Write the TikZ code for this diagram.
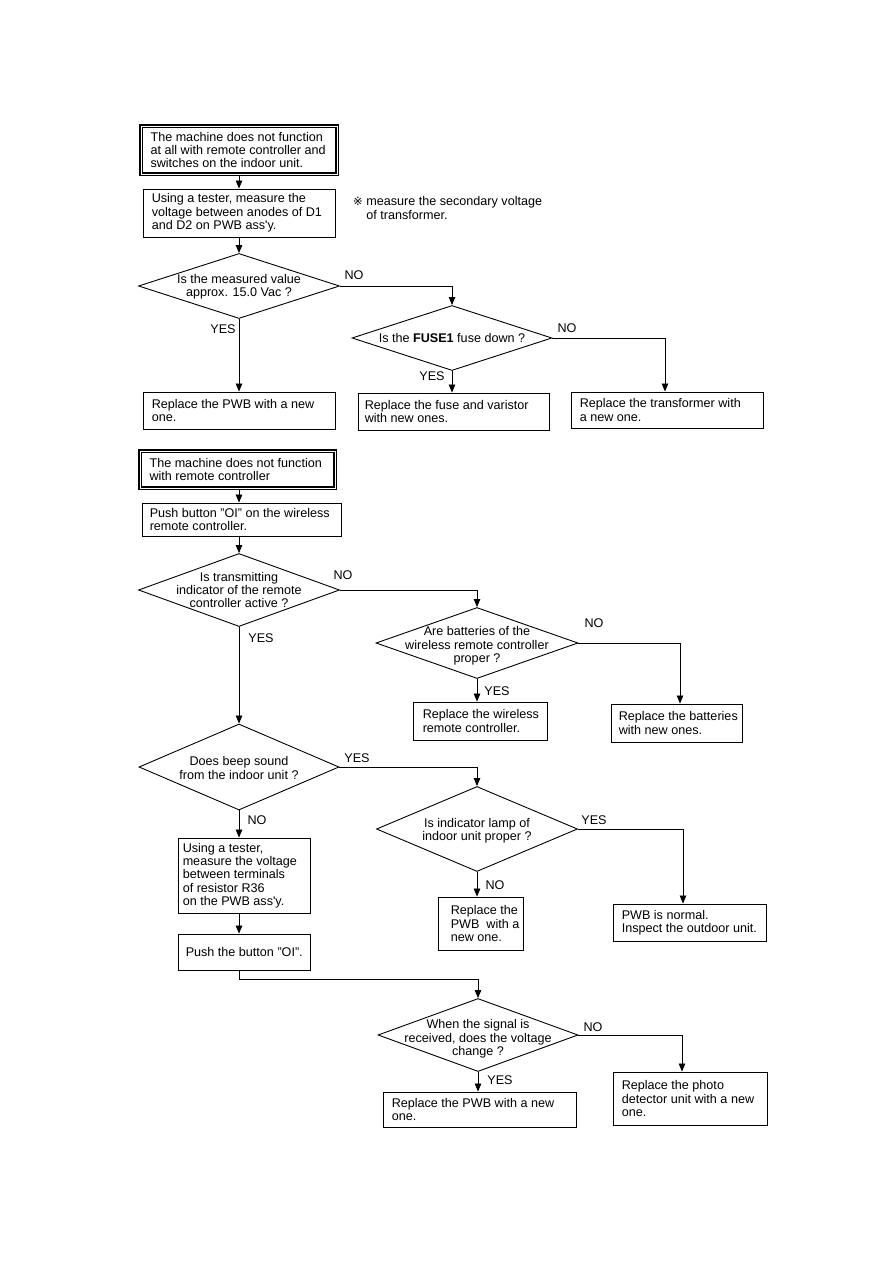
\documentclass[tikz,border=0pt]{standalone}
\usepackage{fontspec}
\setmainfont{Liberation Sans}
\newfontfamily\djv{DejaVu Sans}
\usetikzlibrary{shapes.geometric,arrows.meta}
\newcommand\fs{\fontsize{12.6}{13.3}\selectfont}
\tikzset{
  box/.style={draw, line width=0.9pt, inner sep=0pt},
  dblbox/.style={draw, double, double distance=0.9pt, line width=1.3pt, inner sep=0pt},
  txt/.style={align=left, inner sep=0pt, font=\fs},
  dia/.style={draw, diamond, line width=0.9pt, inner sep=0pt},
  lbl/.style={inner sep=0pt, font=\fs},
  arr/.style={line width=0.8pt, -{Triangle[length=8pt,width=6.5pt]}},
}
% \bx[pad]{style}{name}{x1}{y1}{x2}{y2}{text}
\newcommand\bx[8][9]{%
  \node[#2, minimum width={#6-#4}, minimum height={#7-#5}] (#3) at ({(#4+#6)/2},{(#5+#7)/2}) {};
  \node[txt, anchor=west] (#3t) at ([xshift=#1pt]#3.west) {#8};}
% \dm{name}{cx}{cy}{w}{h}{text}{dy}
\newcommand\dm[7]{%
  \node[dia, minimum width=#4pt, minimum height=#5pt] (#1) at (#2,#3) {};
  \node[txt, align=center] (#1t) at (#2,#3+#7) {#6};}
\begin{document}
\begin{tikzpicture}[x=1pt,y=-1pt]
\useasboundingbox (0,0) rectangle (893,1263);
\fill[white] (0,0) rectangle (893,1263);

% ---------- section 1
\bx[10]{dblbox}{b1}{141}{126}{337}{174}{The machine does not function\\at all with remote controller and\\switches on the indoor unit.}
\bx[9]{box}{b2}{143}{189}{335}{237}{Using a tester, measure the\\voltage between anodes of D1\\and D2 on PWB ass\textquotesingle y.}
\node[txt, anchor=west] (note) at (353,208) {{\djv\fontsize{11.5}{13.3}\selectfont ※}\ measure the secondary voltage\\\phantom{{\djv\fontsize{11.5}{13.3}\selectfont ※}}\ of transformer.};
\dm{d1}{239}{286}{201}{65}{Is the measured value\\approx. 15.0 Vac ?}{1}
\bx[9]{box}{b3}{143}{392}{335}{429}{Replace the PWB with a new\\one.}
\dm{d2}{452}{338}{200}{65}{Is the \textbf{FUSE1} fuse down ?}{0}
\bx[7]{box}{b4}{358}{393}{549}{430}{Replace the fuse and varistor\\with new ones.}
\bx[9]{box}{b5}{571}{392}{763}{428}{Replace the transformer with\\a new one.}

\draw[arr] (b1.south) -- (b1.south |- b2.north);
\draw[arr] (b2.south) -- (d1.north);
\draw[arr] (d1.south) -- (d1.south |- b3.north);
\draw[arr] (d1.east) -| (d2.north);
\draw[arr] (d2.south) -- (d2.south |- b4.north);
\draw[arr] (d2.east) -| ([xshift=-2pt]b5.north);
\node[lbl] (l1) at (354,275) {NO};
\node[lbl] (l2) at (223,329) {YES};
\node[lbl] (l3) at (432,376) {YES};
\node[lbl] (l4) at (567,328) {NO};

% ---------- section 2
\bx[10]{dblbox}{b6}{140}{451}{335}{488}{The machine does not function\\with remote controller}
\bx[8]{box}{b7}{142}{503}{341}{536}{Push button "OI" on the wireless\\remote controller.}
\dm{d3}{239}{590}{201}{73}{Is transmitting\\indicator of the remote\\controller active ?}{0}
\dm{d4}{477}{643}{202}{71}{Are batteries of the\\wireless remote controller\\proper ?}{3}
\bx[10]{box}{b8}{413}{702}{547}{740}{Replace the wireless\\remote controller.}
\bx[8]{box}{b9}{611}{704}{742}{742}{Replace the batteries\\with new ones.}

\draw[arr] (b6.south -| d3.north) -- (b7.north -| d3.north);
\draw[arr] (b7.south -| d3.north) -- (d3.north);
\draw[arr] (d3.east) -| (d4.north);
\draw[arr] (d4.south) -- (d4.south |- b8.north);
\draw[arr] (d4.east) -| ([xshift=3.5pt]b9.north);
\node[lbl] (l5) at (343,575) {NO};
\node[lbl] (l6) at (261,638) {YES};
\node[lbl] (l7) at (497,691) {YES};
\node[lbl] (l8) at (594,623) {NO};

% ---------- section 3
\dm{d5}{239}{767}{200}{86}{Does beep sound\\from the indoor unit ?}{1}
\dm{d6}{477}{829}{201}{85}{Is indicator lamp of\\indoor unit proper ?}{2}
\bx[5]{box}{b10}{178}{838}{310}{913}{Using a tester,\\measure the voltage\\between terminals\\of resistor R36\\on the PWB ass\textquotesingle y.}
\bx[8]{box}{b11}{178}{934}{310}{970}{Push the button "OI".}
\bx[13]{box}{b12}{438}{897}{523}{950}{Replace the\\PWB\ \ with a\\new one.}
\bx[9]{box}{b13}{613}{904}{766}{941}{PWB is normal.\\Inspect the outdoor unit.}
\dm{d7}{478}{1035}{200}{73}{When the signal is\\received, does the voltage\\change ?}{4}
\bx[9]{box}{b14}{613}{1072}{767}{1125}{Replace the photo\\detector unit with a new\\one.}
\bx[9]{box}{b15}{383}{1092}{576}{1127}{Replace the PWB with a new\\one.}

\draw[arr] (d3.south) -- (d5.north);
\draw[arr] (d5.east) -| (d6.north);
\draw[arr] (d5.south) -- (d5.south |- b10.north);
\draw[arr] (b10.south -| d5.south) -- (b11.north -| d5.south);
\draw[arr] (d6.south) -- (d6.south |- b12.north);
\draw[arr] (d6.east) -| ([xshift=-6.5pt]b13.north);
\draw[arr] (b11.south -| d5.south) -- ++(0,9) -| (d7.north);
\draw[arr] (d7.south) -- (d7.south |- b15.north);
\draw[arr] (d7.east) -| ([xshift=-8pt]b14.north);
\node[lbl] (l9) at (357,758) {YES};
\node[lbl] (l10) at (257,820) {NO};
\node[lbl] (l11) at (495,885) {NO};
\node[lbl] (l12) at (594,820) {YES};
\node[lbl] (l13) at (593,1027) {NO};
\node[lbl] (l14) at (500,1080) {YES};
\end{tikzpicture}
\end{document}
